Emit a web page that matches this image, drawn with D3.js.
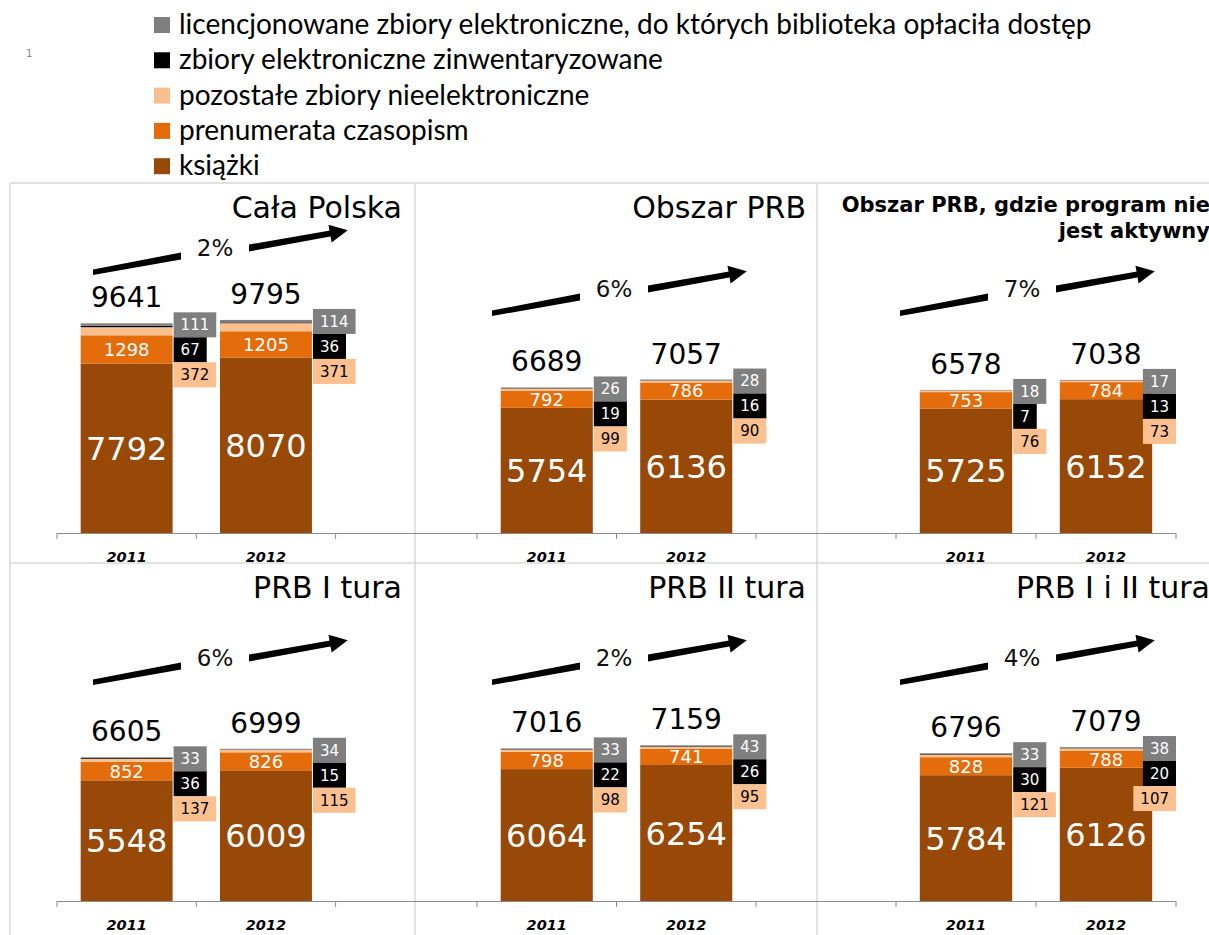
<!DOCTYPE html>
<html><head><meta charset="utf-8">
<script src="https://cdn.jsdelivr.net/npm/d3@7"></script>
<style>html,body{margin:0;padding:0;background:#fff;} svg{display:block;}</style>
</head><body>
<svg id="chart" width="1209" height="935"></svg>
<script>
// ---------------- DATA ----------------
const panelTitles = [["Cała Polska"], ["Obszar PRB"], ["Obszar PRB, gdzie program nie", "jest aktywny"],
                     ["PRB I tura"], ["PRB II tura"], ["PRB I i II tura"]];
const years = ["2011", "2012"];
const seriesKeys = ["ksiazki", "prenumerata", "pozostale", "zinwentaryzowane", "licencjonowane"];
const seriesNames = ["książki", "prenumerata czasopism", "pozostałe zbiory nieelektroniczne",
                     "zbiory elektroniczne zinwentaryzowane",
                     "licencjonowane zbiory elektroniczne, do których biblioteka opłaciła dostęp"];
const ksiazki          = [[7792, 8070], [5754, 6136], [5725, 6152], [5548, 6009], [6064, 6254], [5784, 6126]];
const prenumerata      = [[1298, 1205], [792, 786],   [753, 784],   [852, 826],   [798, 741],   [828, 788]];
const pozostale        = [[372, 371],   [99, 90],     [76, 73],     [137, 115],   [98, 95],     [121, 107]];
const zinwentaryzowane = [[67, 36],     [19, 16],     [7, 13],      [36, 15],     [22, 26],     [30, 20]];
const licencjonowane   = [[111, 114],   [26, 28],     [18, 17],     [33, 34],     [33, 43],     [33, 38]];
const totals           = [[9641, 9795], [6689, 7057], [6578, 7038], [6605, 6999], [7016, 7159], [6796, 7079]];
const growth = ["2%", "6%", "7%", "6%", "2%", "4%"];

// ---------------- STYLE / LAYOUT ----------------
const seriesColors = {ksiazki: "#984807", prenumerata: "#E46C0A", pozostale: "#FAC090",
                      zinwentaryzowane: "#000000", licencjonowane: "#7F7F7F"};
const numFont = "'DejaVu Sans', Verdana, sans-serif";
const cols = [
  {left: 10,  right: 415,  axisX0: 57,  axisX1: 415,  bandStart: 57,  step: 139.3, titleX: 402,  clampRight: 474},
  {left: 415, right: 817,  axisX0: 415, axisX1: 817,  bandStart: 477, step: 139.5, titleX: 806,  clampRight: 895},
  {left: 817, right: 1209, axisX0: 817, axisX1: 1176, bandStart: 896, step: 140,   titleX: 1210, clampRight: 1176}
];
const rows = [{top: 183, base: 533}, {top: 563, base: 901}];
const arrowAnchors = [[205, 73], [199, 114], [205, 114], [205, 103], [199, 103], [205, 103]]; // panel-local
const plotHeightFor10k = 217.5;

const svg = d3.select("#chart");
const W = 1209, H = 935;
svg.append("rect").attr("width", W).attr("height", H).attr("fill", "#fff");

// ---------------- LEGEND ----------------
const legend = svg.append("g");
const legendOrder = [4, 3, 2, 1, 0];
const legY0 = 34, legDY = 35.3;
const legItems = legend.selectAll("g").data(legendOrder).join("g")
  .attr("transform", (d, i) => `translate(0,${legY0 + i * legDY})`);
legItems.append("rect").attr("x", 154).attr("y", -17).attr("width", 16).attr("height", 16)
  .attr("fill", d => seriesColors[seriesKeys[d]]);
const legTexts = legItems.append("text").attr("x", 179).attr("y", 0)
  .attr("font-family", "Lato, 'Open Sans', sans-serif").attr("font-size", 24).attr("fill", "#000")
  .text(d => seriesNames[d]);
const firstLen = legTexts.nodes()[0].getComputedTextLength();
legTexts.attr("font-size", 24 * 913 / firstLen);
svg.append("text").attr("x", 26).attr("y", 57).attr("font-size", 10).attr("fill", "#888")
  .attr("font-family", numFont).text("1");

// ---------------- PANEL FRAME ----------------
const frame = svg.append("g").attr("stroke", "#D9D9D9").attr("stroke-width", 1.5);
frame.append("line").attr("x1", 10).attr("x2", W).attr("y1", 183).attr("y2", 183);
frame.append("line").attr("x1", 10).attr("x2", W).attr("y1", 563).attr("y2", 563);
[10, 415, 817].forEach(x => frame.append("line").attr("x1", x).attr("x2", x).attr("y1", 183).attr("y2", H));

// ---------------- PANELS ----------------
panelTitles.forEach((title, i) => {
  const c = cols[i % 3], r = rows[Math.floor(i / 3)];
  const g = svg.append("g");
  const x = d3.scaleBand().domain(years).range([c.bandStart, c.bandStart + 2 * c.step]).padding(0);
  const y = d3.scaleLinear().domain([0, 10000]).range([r.base, r.base - plotHeightFor10k]);
  const bw = x.bandwidth() * 0.66, boff = x.bandwidth() * 0.17;

  const records = years.map((yr, j) => ({
    year: yr, ksiazki: ksiazki[i][j], prenumerata: prenumerata[i][j], pozostale: pozostale[i][j],
    zinwentaryzowane: zinwentaryzowane[i][j], licencjonowane: licencjonowane[i][j], total: totals[i][j]
  }));
  const stacked = d3.stack().keys(seriesKeys)(records);

  // bars
  g.selectAll("g.series").data(stacked).join("g").attr("fill", s => seriesColors[s.key])
    .selectAll("rect").data(s => s).join("rect")
    .attr("x", d => x(d.data.year) + boff).attr("width", bw)
    .attr("y", d => y(d[1])).attr("height", d => y(d[0]) - y(d[1]));

  // axis line + ticks at category boundaries
  g.append("line").attr("x1", c.axisX0).attr("x2", c.axisX1).attr("y1", r.base + 0.5).attr("y2", r.base + 0.5)
    .attr("stroke", "#8C8C8C").attr("stroke-width", 1);
  const bounds = years.map(yr => x(yr)).concat([x(years[years.length - 1]) + x.bandwidth()]);
  g.selectAll("line.tick").data(bounds).join("line").attr("class", "tick")
    .attr("x1", d => d).attr("x2", d => d).attr("y1", r.base).attr("y2", r.base + 6)
    .attr("stroke", "#8C8C8C");
  const ax = g.append("g").attr("transform", `translate(0,${r.base})`)
    .call(d3.axisBottom(x).tickSize(0).tickSizeOuter(0));
  ax.select(".domain").remove();
  ax.selectAll("text").attr("y", 29).attr("dy", 0)
    .attr("font-family", numFont).attr("font-size", 14.5).attr("font-weight", "bold")
    .attr("font-style", "italic").attr("fill", "#000");

  // labels inside bars
  const sK = stacked[0], sP = stacked[1];
  g.selectAll("text.kl").data(sK).join("text").attr("class", "kl")
    .attr("x", d => x(d.data.year) + x.bandwidth() / 2)
    .attr("y", d => (y(d[0]) + y(d[1])) / 2 + 32 * 0.36)
    .attr("text-anchor", "middle").attr("font-family", numFont).attr("font-size", 32)
    .attr("fill", "#fff").text(d => d.data.ksiazki);
  g.selectAll("text.pl").data(sP).join("text").attr("class", "pl")
    .attr("x", d => x(d.data.year) + x.bandwidth() / 2)
    .attr("y", d => (y(d[0]) + y(d[1])) / 2 + 18 * 0.36)
    .attr("text-anchor", "middle").attr("font-family", numFont).attr("font-size", 18)
    .attr("fill", "#fff").text(d => d.data.prenumerata);

  // totals
  g.selectAll("text.tot").data(stacked[4]).join("text").attr("class", "tot")
    .attr("x", d => x(d.data.year) + x.bandwidth() / 2)
    .attr("y", d => y(d[1]) - 16)
    .attr("text-anchor", "middle").attr("font-family", numFont).attr("font-size", 28)
    .attr("fill", "#000").text(d => d.data.total);

  // small-value boxes to the right of the bar
  const boxSpecs = [
    {key: "licencjonowane", fill: "#7F7F7F", color: "#fff"},
    {key: "zinwentaryzowane", fill: "#000", color: "#fff"},
    {key: "pozostale", fill: "#FAC090", color: "#000"}
  ];
  records.forEach((rec, j) => {
    const top = y(stacked[4][j][1]) - 11;
    const barRight = x(rec.year) + boff + bw;
    boxSpecs.forEach((b, k) => {
      const bg = g.append("g");
      const rect = bg.append("rect").attr("fill", b.fill);
      const t = bg.append("text").attr("font-family", numFont).attr("font-size", 15)
        .attr("fill", b.color).text(rec[b.key]);
      const tw = t.node().getComputedTextLength();
      const wBox = tw + 14;
      const bx = Math.min(barRight + 1, c.clampRight - wBox);
      const by = top + k * 25;
      rect.attr("x", bx).attr("y", by).attr("width", wBox).attr("height", 25);
      t.attr("x", bx + 7).attr("y", by + 12.5 + 15 * 0.36);
    });
  });

  // title
  const multi = title.length > 1;
  title.forEach((line, li) => {
    g.append("text").attr("x", c.titleX)
      .attr("y", multi ? r.top + 29 + li * 26 : r.top + 35)
      .attr("text-anchor", "end").attr("font-family", numFont)
      .attr("font-size", multi ? 21 : 30).attr("font-weight", multi ? "bold" : "normal")
      .attr("fill", "#000").text(line);
  });

  // growth arrow (hand-drawn style, two segments around the percentage)
  const [ax0, ay0] = arrowAnchors[i];
  const tx = c.left + ax0, ty = r.top + ay0;
  const arr = g.append("g").attr("fill", "#000");
  const s1x0 = tx - 122, s1y0 = ty + 16, s1x1 = tx - 34, s1y1 = ty;
  arr.append("path").attr("d",
    `M${s1x0},${s1y0 - 2.5} L${s1x1},${s1y1 - 3.5} L${s1x1},${s1y1 + 3.5} L${s1x0},${s1y0 + 3} Z`);
  const s2x0 = tx + 34, s2y0 = ty - 8, s2x1 = tx + 118, s2y1 = ty - 23;
  arr.append("path").attr("d",
    `M${s2x0},${s2y0 - 3.5} L${s2x1},${s2y1 - 3} L${s2x1},${s2y1 + 3} L${s2x0},${s2y0 + 3.5} Z`);
  const ang = Math.atan2(s2y1 - s2y0, s2x1 - s2x0);
  const tipX = s2x1 + 15 * Math.cos(ang), tipY = s2y1 + 15 * Math.sin(ang);
  const px = -Math.sin(ang), py = Math.cos(ang);
  arr.append("path").attr("d",
    `M${s2x1 - 3 * Math.cos(ang) + 9 * px},${s2y1 - 3 * Math.sin(ang) + 9 * py} L${tipX},${tipY} ` +
    `L${s2x1 - 3 * Math.cos(ang) - 9 * px},${s2y1 - 3 * Math.sin(ang) - 9 * py} Z`);
  g.append("text").attr("x", tx).attr("y", ty).attr("text-anchor", "middle")
    .attr("font-family", numFont).attr("font-size", 23).attr("fill", "#111").text(growth[i]);
});
</script>
</body></html>
